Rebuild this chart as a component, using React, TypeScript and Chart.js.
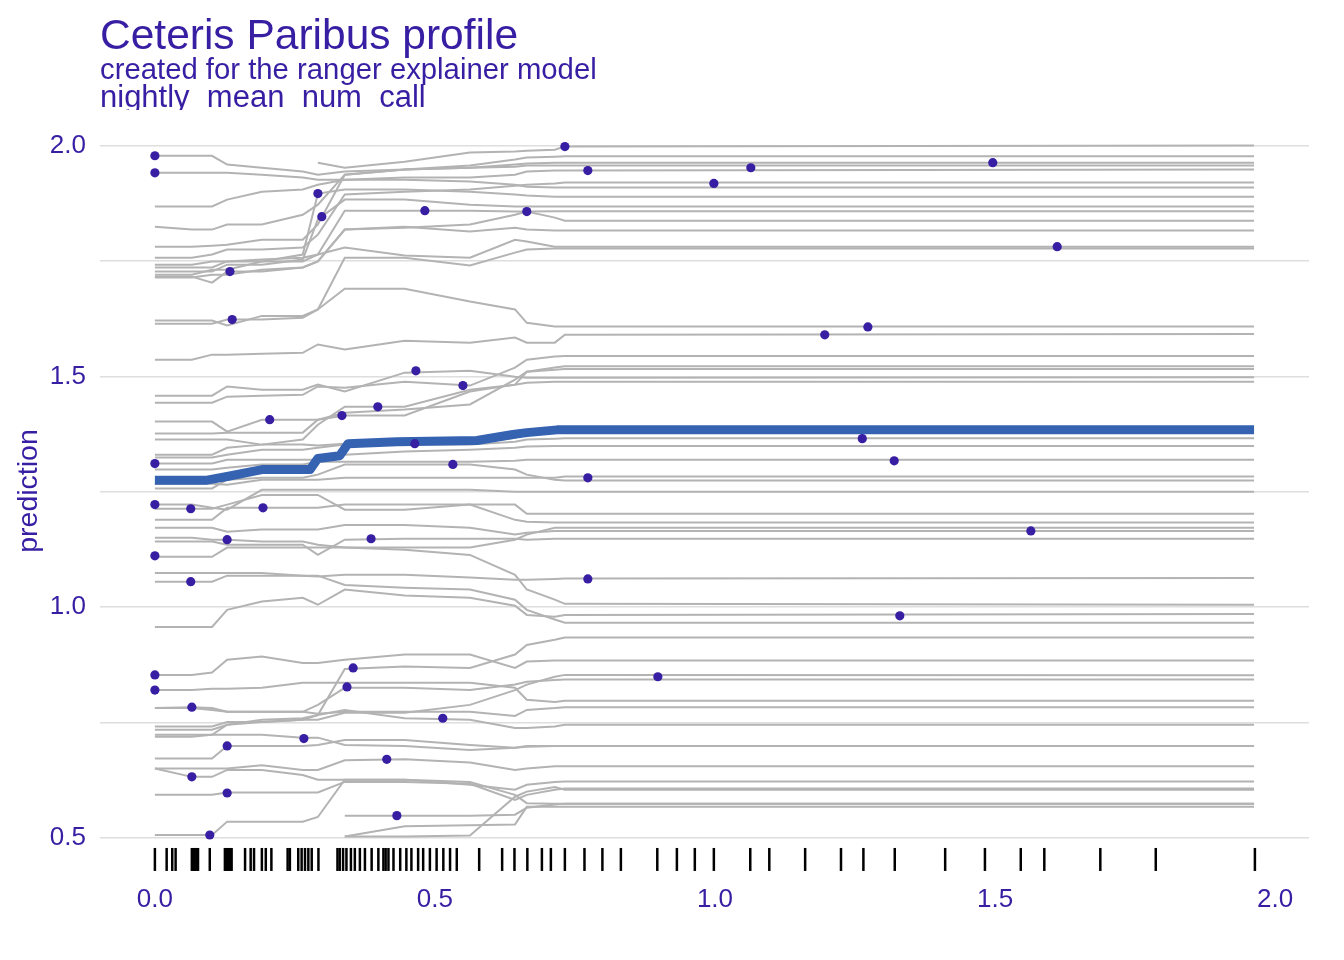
import React, { useEffect, useRef } from "react";
import { Chart, registerables } from "chart.js";

Chart.register(...registerables);

const titleText = "Ceteris Paribus profile";
const subtitleText = "created for the ranger explainer model";
const variableText = "nightly_mean_num_call";
const yAxisTitle = "prediction";

const xTicks = [0, 0.5, 1.0, 1.5, 2.0];
const yGridTicks = [0.5, 0.75, 1.0, 1.25, 1.5, 1.75, 2.0];

// shared grid of the profiles (nightly mean num call)
const gridX = [0, 0.066, 0.102, 0.129, 0.191, 0.264, 0.291, 0.339, 0.446, 0.5625, 0.643, 0.664, 0.714, 0.732, 1.9625];

// one row per observation: predictions along gridX
const profileValues: (number | null)[][] = [
  [null, null, null, null, null, null, 1.963, 1.952, 1.965, 1.985, 1.987, 1.989, 1.991, 1.998, 2.0],
  [1.978, 1.978, 1.978, 1.959, 1.952, 1.944, 1.937, 1.944, 1.948, 1.957, 1.970, 1.974, 1.976, 1.977, 1.977],
  [1.941, 1.941, 1.941, 1.941, 1.937, 1.931, 1.926, 1.926, 1.926, 1.922, 1.915, 1.911, 1.909, 1.909, 1.909],
  [1.868, 1.868, 1.868, 1.883, 1.900, 1.905, 1.915, 1.926, 1.931, 1.931, 1.937, 1.944, 1.946, 1.946, 1.948],
  [1.824, 1.818, 1.818, 1.829, 1.829, 1.850, 1.872, 1.937, 1.948, 1.952, 1.954, 1.957, 1.957, 1.957, 1.957],
  [1.781, 1.781, 1.783, 1.785, 1.796, 1.796, 1.829, 1.937, 1.948, 1.952, 1.959, 1.961, 1.963, 1.963, 1.963],
  [1.757, 1.757, 1.764, 1.775, 1.775, 1.779, 1.807, 1.894, 1.900, 1.905, 1.913, 1.915, 1.918, 1.920, 1.920],
  [1.736, 1.736, 1.736, 1.749, 1.749, 1.764, 1.896, 1.905, 1.905, 1.900, 1.894, 1.892, 1.889, 1.889, 1.889],
  [1.727, 1.727, 1.727, 1.742, 1.742, 1.753, 1.840, 1.883, 1.883, 1.872, 1.868, 1.868, 1.868, 1.868, 1.868],
  [1.720, 1.720, 1.731, 1.731, 1.749, 1.749, 1.764, 1.859, 1.859, 1.859, 1.857, 1.857, 1.858, 1.858, 1.858],
  [1.714, 1.714, 1.720, 1.720, 1.731, 1.736, 1.749, 1.818, 1.822, 1.829, 1.850, 1.857, 1.844, 1.837, 1.837],
  [1.716, 1.716, 1.703, 1.727, 1.727, 1.736, 1.749, 1.818, 1.824, 1.814, 1.822, 1.818, 1.816, 1.816, 1.816],
  [1.742, 1.742, 1.749, 1.749, 1.753, 1.757, 1.764, 1.779, 1.762, 1.757, 1.796, 1.792, 1.781, 1.781, 1.781],
  [1.614, 1.614, 1.614, 1.623, 1.623, 1.627, 1.645, 1.757, 1.757, 1.740, 1.768, 1.775, 1.777, 1.777, 1.777],
  [1.621, 1.621, 1.621, 1.610, 1.631, 1.631, 1.645, 1.690, 1.690, 1.662, 1.645, 1.616, 1.608, 1.608, 1.608],
  [1.536, 1.536, 1.547, 1.547, 1.549, 1.551, 1.569, 1.558, 1.577, 1.573, 1.584, 1.573, 1.573, 1.590, 1.592],
  [1.458, 1.458, 1.458, 1.478, 1.471, 1.471, 1.482, 1.467, 1.508, 1.512, 1.499, 1.497, 1.497, 1.497, 1.498],
  [1.443, 1.443, 1.443, 1.456, 1.458, 1.460, 1.478, 1.475, 1.488, 1.480, 1.519, 1.536, 1.543, 1.544, 1.544],
  [1.402, 1.402, 1.402, 1.380, 1.406, 1.406, 1.406, 1.421, 1.428, 1.439, 1.493, 1.510, 1.519, 1.522, 1.522],
  [1.376, 1.376, 1.376, 1.378, 1.378, 1.378, 1.406, 1.415, 1.415, 1.467, 1.482, 1.510, 1.514, 1.516, 1.516],
  [1.330, 1.330, 1.330, 1.345, 1.352, 1.363, 1.395, 1.434, 1.434, 1.471, 1.482, 1.486, 1.488, 1.488, 1.488],
  [1.363, 1.363, 1.363, 1.363, 1.352, 1.352, 1.350, 1.354, 1.354, 1.354, 1.367, 1.380, 1.384, 1.386, 1.386],
  [1.324, 1.324, 1.324, 1.330, 1.341, 1.341, 1.345, 1.352, 1.352, 1.352, 1.358, 1.363, 1.365, 1.366, 1.366],
  [1.311, 1.311, 1.311, 1.319, 1.319, 1.319, 1.319, 1.330, 1.337, 1.341, 1.345, 1.348, 1.349, 1.349, 1.349],
  [1.298, 1.298, 1.298, 1.302, 1.309, 1.309, 1.315, 1.315, 1.315, 1.315, 1.317, 1.319, 1.319, 1.319, 1.319],
  [1.257, 1.257, 1.257, 1.276, 1.280, 1.280, 1.287, 1.309, 1.309, 1.309, 1.298, 1.287, 1.276, 1.274, 1.274],
  [1.267, 1.267, 1.267, 1.265, 1.276, 1.276, 1.276, 1.280, 1.280, 1.280, 1.280, 1.280, 1.280, 1.283, 1.283],
  [1.222, 1.222, 1.215, 1.211, 1.254, 1.254, 1.254, 1.254, 1.254, 1.254, 1.250, 1.250, 1.250, 1.250, 1.250],
  [1.213, 1.213, 1.213, 1.222, 1.243, 1.243, 1.243, 1.211, 1.211, 1.222, 1.222, 1.202, 1.202, 1.202, 1.202],
  [1.189, 1.189, 1.189, 1.215, 1.215, 1.215, 1.215, 1.222, 1.222, 1.222, 1.189, 1.185, 1.183, 1.183, 1.183],
  [1.172, 1.172, 1.172, 1.163, 1.168, 1.168, 1.168, 1.178, 1.178, 1.172, 1.157, 1.161, 1.165, 1.165, 1.165],
  [1.150, 1.150, 1.146, 1.146, 1.142, 1.142, 1.135, 1.129, 1.129, 1.129, 1.146, 1.157, 1.172, 1.172, 1.172],
  [1.142, 1.142, 1.142, 1.135, 1.135, 1.135, 1.113, 1.146, 1.148, 1.148, 1.148, 1.146, 1.148, 1.148, 1.148],
  [1.109, 1.109, 1.109, 1.129, 1.129, 1.129, 1.129, 1.129, 1.124, 1.113, 1.070, 1.038, 1.016, 1.007, 1.005],
  [1.055, 1.055, 1.055, 1.068, 1.068, 1.068, 1.068, 1.048, 1.042, 1.038, 1.016, 0.994, 0.973, 0.966, 0.966],
  [1.074, 1.074, 1.074, 1.074, 1.074, 1.068, 1.066, 1.070, 1.070, 1.064, 1.059, 1.059, 1.061, 1.062, 1.063],
  [0.957, 0.957, 0.957, 0.994, 1.012, 1.020, 1.005, 1.038, 1.025, 1.020, 1.003, 0.983, 0.979, 0.983, 0.985],
  [0.853, 0.853, 0.858, 0.886, 0.893, 0.879, 0.879, 0.886, 0.897, 0.897, 0.868, 0.882, 0.884, 0.884, 0.884],
  [0.820, 0.820, 0.823, 0.823, 0.825, 0.836, 0.836, 0.836, 0.836, 0.836, 0.825, 0.799, 0.794, 0.797, 0.797],
  [0.734, 0.734, 0.734, 0.745, 0.756, 0.759, 0.766, 0.866, 0.871, 0.868, 0.897, 0.918, 0.929, 0.934, 0.934],
  [0.781, 0.781, 0.777, 0.773, 0.773, 0.773, 0.788, 0.825, 0.825, 0.820, 0.832, 0.838, 0.842, 0.843, 0.843],
  [0.723, 0.723, 0.723, 0.745, 0.751, 0.756, 0.756, 0.771, 0.771, 0.788, 0.820, 0.832, 0.849, 0.853, 0.852],
  [0.781, 0.783, 0.781, 0.773, 0.773, 0.773, 0.769, 0.773, 0.773, 0.773, 0.764, 0.777, 0.781, 0.783, 0.783],
  [0.741, 0.741, 0.741, 0.751, 0.751, 0.756, 0.766, 0.777, 0.759, 0.756, 0.738, 0.738, 0.741, 0.745, 0.745],
  [0.719, 0.719, 0.723, 0.723, 0.723, 0.717, 0.717, 0.701, 0.699, 0.690, 0.695, 0.699, 0.699, 0.699, 0.699],
  [0.672, 0.672, 0.672, 0.699, 0.699, 0.699, 0.701, 0.712, 0.712, 0.701, 0.695, 0.697, 0.699, 0.699, 0.699],
  [0.650, 0.650, 0.650, 0.650, 0.657, 0.647, 0.647, 0.668, 0.670, 0.663, 0.647, 0.650, 0.655, 0.655, 0.655],
  [0.650, 0.632, 0.632, 0.647, 0.647, 0.636, 0.626, 0.626, 0.626, 0.615, 0.604, 0.615, 0.621, 0.622, 0.622],
  [0.593, 0.593, 0.593, 0.598, 0.598, 0.598, 0.598, 0.621, 0.621, 0.617, 0.582, 0.593, 0.604, 0.607, 0.607],
  [null, null, null, null, null, null, null, 0.548, 0.548, 0.548, 0.550, 0.565, 0.572, 0.574, 0.574],
  [0.506, 0.506, 0.506, 0.535, 0.535, 0.535, 0.545, 0.626, 0.626, 0.621, 0.593, 0.575, 0.574, 0.574, 0.574],
  [null, null, null, null, null, null, null, 0.503, 0.525, 0.527, 0.529, 0.567, 0.567, 0.567, 0.567],
  [null, null, null, null, null, null, null, 0.503, 0.503, 0.505, 0.589, 0.600, 0.610, 0.604, 0.604],
];

// observed (x, prediction) of each observation
const pointX = [0.732, 0, 0, 0.773, 1.064, 1.496, 0.998, 0.291, 0.298, 0.482, 0.664, 0.134, 1.611, 0.138,
  1.273, 1.196, 0.466, 0.550, 0.205, 0.334, 0.398,
  0.464, 1.263, 0, 1.320, 0.532, 0.773, 0, 0.064, 0.193,
  1.564, 0.129, 0.386,
  0, 0.064, 0.773, 1.330,
  0, 0, 0.354, 0.343, 0.898, 0.066, 0.514, 0.266, 0.129, 0.414, 0.066, 0.129, 0.432, 0.098];
const pointY = [1.998, 1.978, 1.941, 1.946, 1.952, 1.963, 1.918, 1.896, 1.846, 1.859, 1.857, 1.727, 1.781, 1.623,
  1.607, 1.590, 1.512, 1.480, 1.406, 1.415, 1.434,
  1.354, 1.365, 1.311, 1.317, 1.309, 1.280, 1.222, 1.213, 1.215,
  1.165, 1.146, 1.148,
  1.111, 1.055, 1.061, 0.981,
  0.853, 0.820, 0.868, 0.827, 0.849, 0.783, 0.759, 0.715, 0.699, 0.670, 0.632, 0.597, 0.548, 0.506];

// aggregated (mean) profile
const meanX = [0, 0.093, 0.129, 0.191, 0.277, 0.291, 0.330, 0.345, 0.432, 0.575, 0.639, 0.664, 0.718, 1.9625];
const meanY = [1.275, 1.275, 1.283, 1.298, 1.298, 1.322, 1.328, 1.354, 1.358, 1.361, 1.374, 1.378, 1.384, 1.384];

// rug of observed values
const rugX = [0, 0.021, 0.031, 0.037, 0.066, 0.069, 0.071, 0.074, 0.077, 0.098, 0.125, 0.128, 0.131, 0.134, 0.137,
  0.161, 0.171, 0.177, 0.191, 0.198, 0.208, 0.237, 0.241, 0.256, 0.262, 0.268, 0.274, 0.280, 0.292, 0.326, 0.330,
  0.336, 0.342, 0.350, 0.357, 0.366, 0.375, 0.387, 0.399, 0.408, 0.412, 0.417, 0.426, 0.438, 0.449, 0.458, 0.470,
  0.479, 0.491, 0.503, 0.515, 0.527, 0.539, 0.579, 0.620, 0.642, 0.665, 0.691, 0.707, 0.732, 0.767, 0.799, 0.832,
  0.897, 0.932, 0.964, 0.998, 1.063, 1.097, 1.161, 1.225, 1.265, 1.321, 1.411, 1.482, 1.546, 1.588, 1.688, 1.787, 1.964];
const rugLevel = 0.453;

const X_MIN = -0.098;
const X_MAX = 2.0606;
const Y_MIN = 0.428;
const Y_MAX = 2.075;

const PURPLE = "#371ea3";
const GREY = "#b3b3b3";
const BLUE = "#3563b2";
const FONT = '"Liberation Sans", Arial, Helvetica, sans-serif';

const textPlugin = {
  id: "cpTexts",
  afterDraw(chart: any) {
    const ctx = chart.ctx as CanvasRenderingContext2D;
    const area = chart.chartArea;
    ctx.save();
    ctx.fillStyle = PURPLE;
    ctx.textAlign = "left";
    ctx.textBaseline = "alphabetic";
    ctx.font = `42.5px ${FONT}`;
    ctx.fillText(titleText, area.left, 49);
    ctx.font = `29.3px ${FONT}`;
    ctx.fillText(subtitleText, area.left, 79);
    ctx.save();
    ctx.beginPath();
    ctx.rect(0, 0, chart.width, area.top - 1);
    ctx.clip();
    ctx.font = `31px ${FONT}`;
    ctx.fillText(variableText, area.left, 107);
    ctx.restore();
    ctx.translate(29, (area.top + area.bottom) / 2);
    ctx.rotate(-Math.PI / 2);
    ctx.textAlign = "center";
    ctx.textBaseline = "middle";
    ctx.font = `28.5px ${FONT}`;
    ctx.fillText(yAxisTitle, 0, 0);
    ctx.restore();
  },
};

export default function App() {
  const canvasRef = useRef<HTMLCanvasElement | null>(null);

  useEffect(() => {
    if (!canvasRef.current) return;

    const profileSets = profileValues.map((vals) => ({
      type: "line" as const,
      data: gridX
        .map((x, i) => ({ x, y: vals[i] }))
        .filter((p) => p.y !== null),
      borderColor: GREY,
      borderWidth: 2,
      pointRadius: 0,
      tension: 0,
      fill: false,
      order: 3,
    }));

    const chart = new Chart(canvasRef.current, {
      type: "scatter",
      data: {
        datasets: [
          {
            type: "scatter" as const,
            data: rugX.map((x) => ({ x, y: rugLevel })),
            pointStyle: "line",
            rotation: 90,
            pointRadius: 11.5,
            borderColor: "#000000",
            backgroundColor: "#000000",
            pointBorderWidth: 2.5,
            borderWidth: 2.5,
            order: 0,
          },
          {
            type: "scatter" as const,
            data: pointX.map((x, i) => ({ x, y: pointY[i] })),
            pointRadius: 4.6,
            pointBorderWidth: 0,
            backgroundColor: PURPLE,
            borderColor: PURPLE,
            order: 1,
          },
          {
            type: "line" as const,
            data: meanX.map((x, i) => ({ x, y: meanY[i] })),
            borderColor: BLUE,
            borderWidth: 9,
            borderJoinStyle: "round",
            pointRadius: 0,
            tension: 0,
            fill: false,
            order: 2,
          },
          ...profileSets,
        ] as any,
      },
      options: {
        animation: false,
        responsive: false,
        devicePixelRatio: 1,
        events: [],
        layout: { padding: { top: 111, right: 35, left: 0, bottom: 0 } },
        plugins: {
          legend: { display: false },
          tooltip: { enabled: false },
          title: { display: false },
        },
        scales: {
          x: {
            type: "linear",
            min: X_MIN,
            max: X_MAX,
            afterFit: (s: any) => {
              s.height = 89;
            },
            afterBuildTicks: (s: any) => {
              s.ticks = xTicks.map((v) => ({ value: v }));
            },
            grid: { display: false, drawTicks: false },
            border: { display: false },
            ticks: {
              padding: 13,
              color: PURPLE,
              font: { family: FONT, size: 26 },
              maxRotation: 0,
              autoSkip: false,
              callback: (v: any) => Number(v).toFixed(1),
            },
          },
          y: {
            type: "linear",
            min: Y_MIN,
            max: Y_MAX,
            afterFit: (s: any) => {
              s.width = 100;
            },
            afterBuildTicks: (s: any) => {
              s.ticks = yGridTicks.map((v) => ({ value: v }));
            },
            grid: { color: "#dedede", lineWidth: 1.6, drawTicks: false },
            border: { display: false },
            ticks: {
              padding: 14,
              color: PURPLE,
              font: { family: FONT, size: 26 },
              autoSkip: false,
              callback: (v: any) => {
                const n = Number(v);
                return Math.abs(n * 2 - Math.round(n * 2)) < 1e-9 ? n.toFixed(1) : "";
              },
            },
          },
        },
      } as any,
      plugins: [textPlugin],
    });

    return () => chart.destroy();
  }, []);

  return (
    <div style={{ position: "absolute", left: 0, top: 0, width: 1344, height: 960, background: "#ffffff" }}>
      <canvas ref={canvasRef} width={1344} height={960} style={{ display: "block", width: 1344, height: 960 }} />
    </div>
  );
}
